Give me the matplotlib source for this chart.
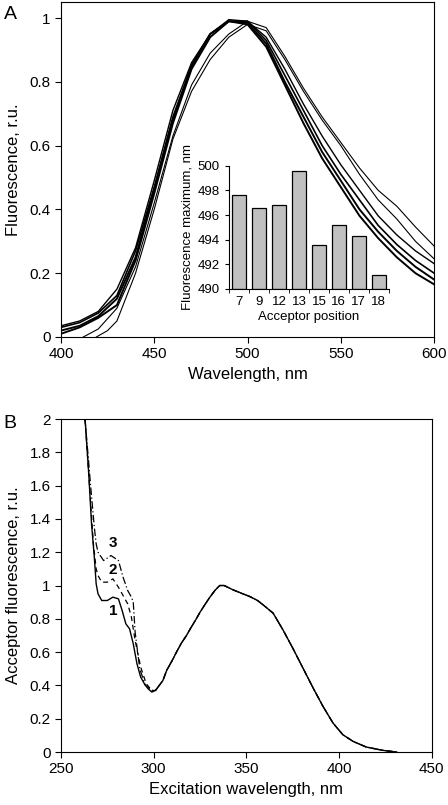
import numpy as np
import matplotlib
matplotlib.use("Agg")
import matplotlib.pyplot as plt
from matplotlib.ticker import FixedLocator, FuncFormatter

plt.rcParams['font.family'] = ['Liberation Sans', 'DejaVu Sans']

# ---- panel A: emission spectra (10 nm steps)
wl_a = [400, 410, 420, 430, 440, 450, 460, 470, 480, 490, 500,
        510, 520, 530, 540, 550, 560, 570, 580, 590, 600]
em_1 = [0.035, 0.05, 0.08, 0.15, 0.28, 0.49, 0.71, 0.86, 0.95, 0.995, 0.99,
        0.94, 0.84, 0.73, 0.63, 0.54, 0.46, 0.38, 0.32, 0.27, 0.23]
em_2 = [0.03, 0.045, 0.075, 0.13, 0.27, 0.47, 0.69, 0.85, 0.95, 0.99, 0.99,
        0.93, 0.82, 0.71, 0.60, 0.51, 0.43, 0.35, 0.29, 0.24, 0.20]
em_3 = [0.02, 0.035, 0.065, 0.12, 0.25, 0.46, 0.68, 0.85, 0.95, 0.99, 0.985,
        0.92, 0.80, 0.69, 0.58, 0.49, 0.40, 0.33, 0.27, 0.22, 0.18]
em_4 = [0.01, 0.03, 0.06, 0.10, 0.24, 0.45, 0.67, 0.84, 0.94, 0.99, 0.98,
        0.91, 0.79, 0.67, 0.56, 0.47, 0.38, 0.31, 0.25, 0.20, 0.165]
wl_a5 = [412, 420, 430, 440, 450, 460, 470, 480, 490, 500,
         510, 520, 530, 540, 550, 560, 570, 580, 590, 600]
em_5 = [0.0, 0.025, 0.09, 0.22, 0.42, 0.63, 0.79, 0.89, 0.95, 0.99,
        0.97, 0.88, 0.78, 0.69, 0.61, 0.53, 0.46, 0.41, 0.345, 0.285]
wl_a6 = [419, 425, 430, 440, 450, 460, 470, 480, 490, 500,
         510, 520, 530, 540, 550, 560, 570, 580, 590, 600]
em_6 = [0.0, 0.02, 0.05, 0.20, 0.40, 0.62, 0.77, 0.87, 0.94, 0.98,
        0.96, 0.87, 0.77, 0.68, 0.60, 0.51, 0.43, 0.37, 0.30, 0.245]

# inset: fluorescence maximum vs acceptor position
positions = ['7', '9', '12', '13', '15', '16', '17', '18']
fl_max = [497.6, 496.6, 496.8, 499.6, 493.6, 495.2, 494.3, 491.1]

# ---- panel B: excitation spectra
wl_b1 = [263, 265, 266.5, 268, 269, 270, 272, 275, 278, 281, 283, 285, 287,
         289, 291, 293, 295, 297, 299, 301]
ex_1 = [2.0, 1.67, 1.37, 1.17, 1.01, 0.95, 0.91, 0.91, 0.93, 0.92, 0.85, 0.77,
        0.74, 0.65, 0.53, 0.45, 0.41, 0.38, 0.36, 0.37]
wl_b2 = [263, 264.5, 266, 267.5, 269, 270, 272, 275, 278, 281, 284, 286,
         288, 290, 293, 296, 299, 301]
ex_2 = [2.0, 1.75, 1.5, 1.25, 1.1, 1.06, 1.02, 1.02, 1.04, 0.99, 0.93, 0.89,
        0.81, 0.67, 0.51, 0.41, 0.37, 0.37]
wl_b3 = [263, 264.5, 266, 268, 269, 270, 273, 277, 281, 283.5, 286, 288,
         289, 290, 292.5, 295.5, 299, 301]
ex_3 = [2.0, 1.8, 1.6, 1.35, 1.25, 1.2, 1.15, 1.18, 1.15, 1.05, 0.97, 0.93,
        0.9, 0.72, 0.5, 0.4, 0.37, 0.37]
# common part of all three curves
wl_tail = [303, 305, 307, 310, 312.3, 315, 317.7, 320, 323, 325, 328.5, 330,
           333, 335.6, 338, 342.8, 347, 351.8, 356, 359, 364.4, 369.7, 375,
           380.5, 386, 391.3, 396.7, 402, 407.5, 414.6, 423.6, 431]
ex_tail = [0.40, 0.43, 0.49, 0.55, 0.60, 0.655, 0.70, 0.745, 0.80, 0.84, 0.90,
           0.925, 0.97, 1.0, 1.0, 0.974, 0.955, 0.934, 0.91, 0.884, 0.834,
           0.734, 0.624, 0.504, 0.384, 0.274, 0.174, 0.104, 0.064, 0.03,
           0.01, 0.0]

fig = plt.figure(figsize=(4.48, 8.05), dpi=100)

# ---------------- panel A
axA = fig.add_axes([0.136, 0.5814, 0.833, 0.416])
axA.plot(wl_a, em_1, color='k', lw=1.0)
axA.plot(wl_a, em_2, color='k', lw=1.2)
axA.plot(wl_a, em_3, color='k', lw=1.4)
axA.plot(wl_a, em_4, color='k', lw=1.4)
axA.plot(wl_a5, em_5, color='k', lw=0.8)
axA.plot(wl_a6, em_6, color='k', lw=0.8)
axA.set_xlim(400, 600)
axA.set_ylim(0, 1.05)
axA.set_xticks([400, 450, 500, 550, 600])
axA.set_yticks([0, 0.2, 0.4, 0.6, 0.8, 1.0])
axA.yaxis.set_major_formatter(FuncFormatter(lambda v, p: f"{v:g}"))
axA.tick_params(direction='out', length=4, labelsize=11, width=0.8)
axA.set_xlabel("Wavelength, nm", fontsize=12, labelpad=4)
axA.set_ylabel("Fluorescence, r.u.", fontsize=12, labelpad=6)
fig.text(0.008, 0.977, "A", fontsize=14)

# inset
axI = fig.add_axes([0.511, 0.641, 0.357, 0.153])
x = np.arange(len(positions))
axI.bar(x, np.array(fl_max) - 490, bottom=490, width=0.68,
        color='#c0c0c0', edgecolor='k', linewidth=0.9)
axI.set_xlim(-0.5, len(positions) - 0.5)
axI.set_ylim(490, 500)
axI.set_yticks([490, 492, 494, 496, 498, 500])
axI.set_xticks(x)
axI.set_xticklabels(positions)
axI.xaxis.set_minor_locator(FixedLocator(np.arange(-0.5, len(positions), 1)))
axI.tick_params(axis='x', which='major', length=0, labelsize=9.5, pad=5)
axI.tick_params(axis='x', which='minor', direction='out', length=3)
axI.tick_params(axis='y', direction='out', length=3, labelsize=9.5)
axI.spines['top'].set_visible(False)
axI.spines['right'].set_visible(False)
axI.patch.set_alpha(0)
axI.set_xlabel("Acceptor position", fontsize=9.5, labelpad=2)
axI.set_ylabel("Fluorescence maximum, nm", fontsize=9.5, labelpad=3)

# ---------------- panel B
axB = fig.add_axes([0.136, 0.0658, 0.828, 0.4137])
axB.plot(wl_b1 + wl_tail, ex_1 + ex_tail, color='k', lw=1.0)
axB.plot(wl_b2 + wl_tail, ex_2 + ex_tail, color='k', lw=0.9, ls=(0, (4, 3)))
axB.plot(wl_b3 + wl_tail, ex_3 + ex_tail, color='k', lw=0.9,
         ls=(0, (6, 2, 1, 2)))
axB.set_xlim(250, 450)
axB.set_ylim(0, 2)
axB.set_xticks([250, 300, 350, 400, 450])
axB.set_yticks(np.arange(0, 2.01, 0.2))
axB.yaxis.set_major_formatter(FuncFormatter(lambda v, p: f"{v:.1f}".rstrip('0').rstrip('.')))
axB.tick_params(direction='out', length=4, labelsize=11, width=0.8)
axB.set_xlabel("Excitation wavelength, nm", fontsize=12, labelpad=4)
axB.set_ylabel("Acceptor fluorescence, r.u.", fontsize=12, labelpad=6)
axB.text(278, 0.82, "1", fontsize=11, fontweight='bold', ha='center')
axB.text(278, 1.07, "2", fontsize=11, fontweight='bold', ha='center')
axB.text(278, 1.23, "3", fontsize=11, fontweight='bold', ha='center')
fig.text(0.008, 0.468, "B", fontsize=14)

fig.savefig("out.png", dpi=100)
plt.close(fig)
